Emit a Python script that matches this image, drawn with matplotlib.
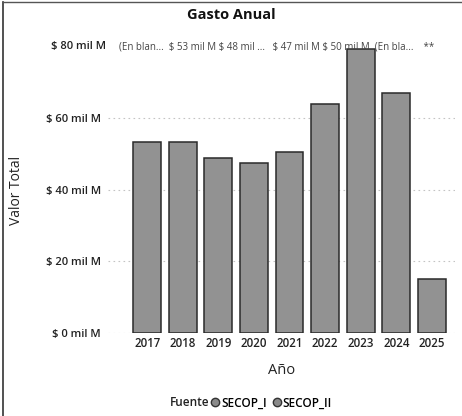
import numpy as np
import matplotlib
matplotlib.use("Agg")
from matplotlib import pyplot as plt
from matplotlib.lines import Line2D

# values (miles de millones)
years = ["2017", "2018", "2019", "2020", "2021", "2022", "2023", "2024", "2025"]
totals = [53.5, 53.3, 48.8, 47.5, 50.5, 64.0, 79.3, 67.0, 15.2]
yticks = [0, 20, 40, 60, 80]
ytick_labels = [r"\$ 0 mil M", r"\$ 20 mil M", r"\$ 40 mil M", r"\$ 60 mil M", r"\$ 80 mil M"]
top_labels = r"(En blan...  \$ 53 mil M \$ 48 mil ...   \$ 47 mil M \$ 50 mil M  (En bla...    **"
sources = ["SECOP_I", "SECOP_II"]

plt.rcParams['font.family'] = ['Open Sans', 'DejaVu Sans']

fig = plt.figure(figsize=(4.62, 4.16), dpi=100)
ax = fig.add_axes([108/462, 1 - 333/416, (455-108)/462, (333-29)/416])

x = np.arange(len(years))
ax.bar(x, totals, width=0.78, color='#929292', edgecolor='#2a2a2a', linewidth=1.1, zorder=3)

ax.set_xlim(-1.1, 8.65)
ax.set_ylim(0, 85)
ax.set_yticks(yticks[:-1])
ax.set_yticklabels(ytick_labels[:-1], fontsize=8, fontweight='semibold', color='#222222')
ax.set_xticks(x)
ax.set_xticklabels(years, fontsize=8.3, fontweight='semibold', color='#222222')
ax.tick_params(length=0)
ax.tick_params(axis='y', pad=5)
ax.tick_params(axis='x', pad=3)
ax.yaxis.grid(True, linestyle=(0, (1.5, 3)), color='#c4c4c4', linewidth=0.8, zorder=0)
for s in ax.spines.values():
    s.set_visible(False)

# the $80 tick label sits on the same row as the data labels
ax.text(-1.16, 80, ytick_labels[-1], fontsize=8, fontweight='semibold', color='#222222',
        ha='right', va='center')
ax.text(-0.78, 80, top_labels, fontsize=7, color='#444444', ha='left', va='center')

ax.set_xlabel("Año", fontsize=10.5, color='#222222', labelpad=9)
fig.text(17/462, 1 - 190/416, "Valor Total", rotation=90, fontsize=10,
         color='#222222', ha='center', va='center')
fig.text(231/462, 1 - 15/416, "Gasto Anual", fontsize=10.5, fontweight='bold',
         color='#111111', ha='center', va='center')

# legend
fig.text(170/462, 1 - 403/416, "Fuente", fontsize=8.5, fontweight='semibold',
         color='#222222', ha='left', va='center')
handles = [Line2D([], [], marker='o', linestyle='', markersize=6,
                  markerfacecolor='#8a8a8a', markeredgecolor='#333333') for _ in sources]
fig.legend(handles, sources, loc='center left', bbox_to_anchor=(210/462, 1 - 403/416),
           ncol=2, frameon=False, prop={'size': 8.5, 'weight': 'semibold'},
           handletextpad=0.05, columnspacing=0.4,
           handlelength=0.9, borderpad=0, borderaxespad=0)

# scanned frame on left and top
fig.add_artist(Line2D([3/462, 3/462], [0, 1 - 2/416], color='#333333', linewidth=1.2,
                      transform=fig.transFigure))
fig.add_artist(Line2D([3/462, 1], [1 - 2/416, 1 - 2/416], color='#555555', linewidth=1.0,
                      transform=fig.transFigure))

fig.savefig("out.png", dpi=100)
